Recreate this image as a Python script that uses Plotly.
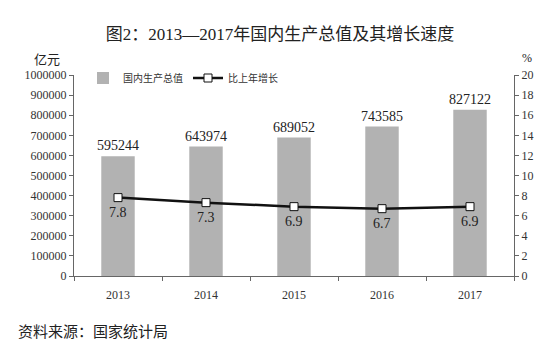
import plotly.graph_objects as go

years = ["2013", "2014", "2015", "2016", "2017"]
gdp = [595244, 643974, 689052, 743585, 827122]
growth = [7.8, 7.3, 6.9, 6.7, 6.9]
left_ticks = [0, 100000, 200000, 300000, 400000, 500000, 600000, 700000, 800000, 900000, 1000000]
right_ticks = list(range(0, 21, 2))

serif = "Liberation Serif, Times New Roman, Noto Sans CJK SC"
sans = "Noto Sans CJK SC, sans-serif"

# page body has an 8px margin; compensate so the chart sits where the reference does
OFF = 8
W, H = 551 - OFF, 356 - OFF
L, R, T, B = 74 - OFF, 37, 75 - OFF, 80
pw = W - L - R
ph = H - T - B

fig = go.Figure()
fig.add_trace(go.Bar(
    x=years, y=gdp, name="国内生产总值",
    marker=dict(color="#b2b2b2", line=dict(width=0)),
    text=[str(v) for v in gdp], textposition="outside", constraintext="none",
    textfont=dict(family=serif, size=14, color="#222"),
    cliponaxis=False,
))
fig.add_trace(go.Scatter(
    x=years, y=growth, name="比上年增长", yaxis="y2",
    mode="lines+markers",
    line=dict(color="#111", width=2.5),
    marker=dict(symbol="square", size=8, color="white", line=dict(color="#111", width=1)),
))

def px_ann(text, px, py, fs, xa, fam):
    # px, py are window-pixel positions
    return dict(text=text, xref="paper", yref="paper",
                x=(px - OFF - L) / pw, y=(H - B - (py - OFF)) / ph,
                xanchor=xa, yanchor="middle", showarrow=False,
                font=dict(family=fam, size=fs, color="#222"))

# growth labels placed just under each marker (category index on x, value on y2)
line_labels = [dict(text=f"{v:.1f}", x=i, y=v, xref="x", yref="y2", yshift=-15,
                    xanchor="center", yanchor="middle", showarrow=False,
                    font=dict(family=serif, size=14, color="#222"))
               for i, v in enumerate(growth)]

fig.update_layout(
    width=W, height=H,
    margin=dict(l=L, r=R, t=T, b=B, autoexpand=False),
    paper_bgcolor="white", plot_bgcolor="white",
    bargap=0.62,
    showlegend=True,
    legend=dict(orientation="h", x=(83 - OFF - L) / pw, y=(H - B - (78 - OFF)) / ph,
                xanchor="left", yanchor="middle",
                font=dict(family=sans, size=10, color="#333"),
                bgcolor="rgba(0,0,0,0)"),
    title=dict(text="图2：2013—2017年国内生产总值及其增长速度", x=(280 - OFF) / W, xanchor="center",
               y=(H - (34 - OFF)) / H, yanchor="middle", font=dict(family=serif, size=17, color="#222")),
    xaxis=dict(type="category", categoryorder="array", categoryarray=years,
               showline=True, linecolor="#666", linewidth=1,
               ticks="outside", tickson="boundaries", ticklen=4, tickcolor="#666",
               ticklabelstandoff=8, tickangle=0,
               tickfont=dict(family=serif, size=12, color="#333"), showgrid=False),
    yaxis=dict(range=[0, 1000000], tickvals=left_ticks, ticktext=[str(v) for v in left_ticks],
               showline=True, linecolor="#666", linewidth=1, ticks="outside", ticklen=4,
               tickcolor="#666", showgrid=False, zeroline=False,
               tickfont=dict(family=serif, size=12, color="#333")),
    yaxis2=dict(range=[0, 20], tickvals=right_ticks, overlaying="y", side="right",
                showline=True, linecolor="#666", linewidth=1, ticks="outside", ticklen=4,
                tickcolor="#666", showgrid=False, zeroline=False,
                tickfont=dict(family=serif, size=12, color="#333")),
    annotations=[
        px_ann("亿元", 47, 58, 13, "center", sans),
        px_ann("%", 527, 58, 12, "center", serif),
        px_ann("资料来源：国家统计局", 16, 330, 15, "left", sans),
    ] + line_labels,
)

fig.write_html("out.html")
